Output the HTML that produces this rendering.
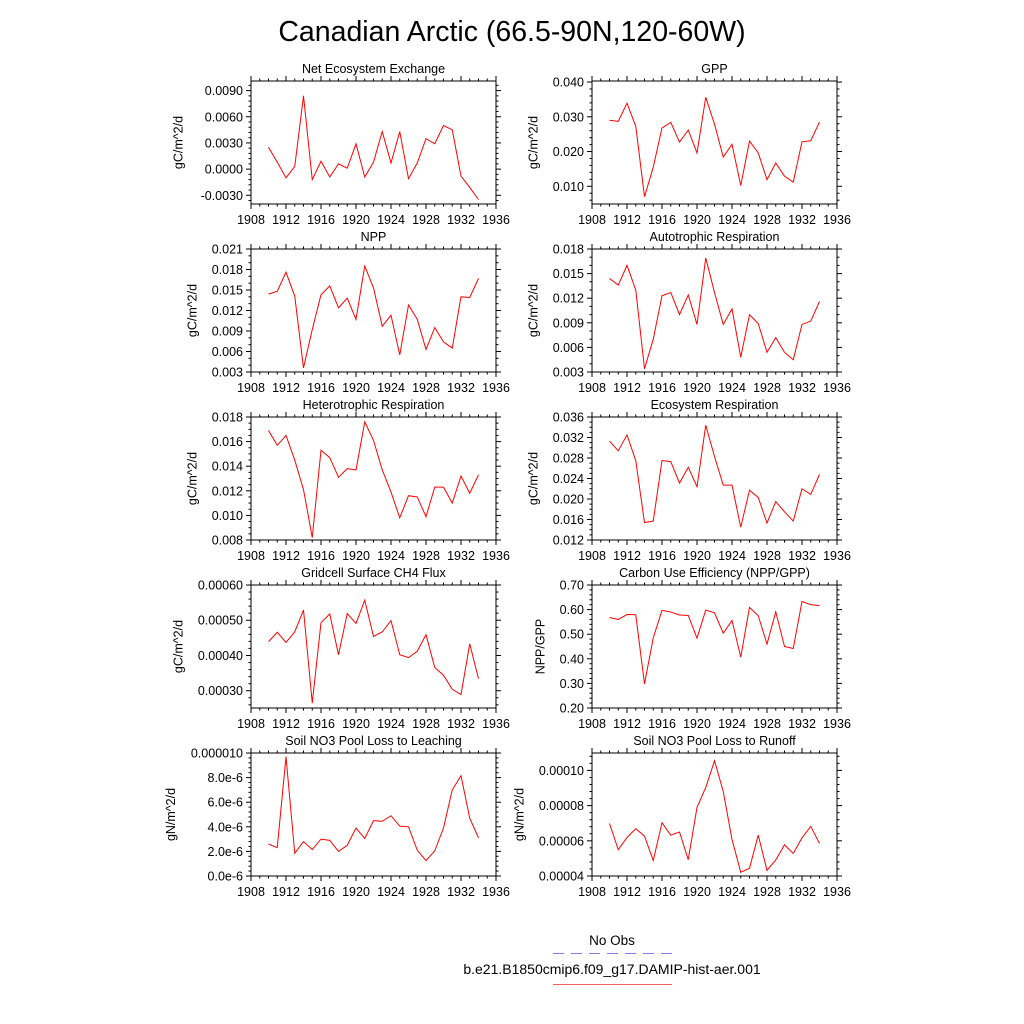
<!DOCTYPE html>
<html><head><meta charset="utf-8"><title>Canadian Arctic</title>
<style>html,body{margin:0;padding:0;background:#fff}svg{display:block;font-family:"Liberation Sans",sans-serif}</style>
</head><body>
<svg id="fig" width="1024" height="1024" viewBox="0 0 1024 1024">
<text x="512" y="41" font-size="28.5" text-anchor="middle">Canadian Arctic (66.5-90N,120-60W)</text>
<g>
<text x="612" y="945" font-size="13.5" text-anchor="middle">No Obs</text>
<line x1="553" y1="953.5" x2="672" y2="953.5" stroke="#7d7df5" stroke-width="1" stroke-dasharray="11,7"/>
<text x="612" y="974" font-size="14" text-anchor="middle">b.e21.B1850cmip6.f09_g17.DAMIP-hist-aer.001</text>
<line x1="553" y1="984.5" x2="672" y2="984.5" stroke="#f46060" stroke-width="1"/>
</g>
</svg>
<script>
const years = [1910,1911,1912,1913,1914,1915,1916,1917,1918,1919,1920,1921,1922,1923,1924,1925,1926,1927,1928,1929,1930,1931,1932,1933,1934];
const xTicks = [1908,1912,1916,1920,1924,1928,1932,1936];
const neeValues = [0.0025,0.0008,-0.0010,0.0003,0.0084,-0.0012,0.0009,-0.0009,0.0006,0.0001,0.0029,-0.0009,0.0008,0.0043,0.0007,0.0043,-0.0011,0.0007,0.0035,0.0029,0.0050,0.0045,-0.0008,-0.0021,-0.0035];
const gppValues = [0.0290,0.0287,0.0339,0.0273,0.0070,0.0155,0.0268,0.0284,0.0227,0.0262,0.0196,0.0356,0.0279,0.0184,0.0221,0.0102,0.0230,0.0196,0.0119,0.0167,0.0129,0.0112,0.0228,0.0231,0.0285];
const nppValues = [0.0144,0.0148,0.0176,0.0141,0.0036,0.0092,0.0143,0.0156,0.0124,0.0138,0.0107,0.0185,0.0153,0.0097,0.0113,0.0055,0.0128,0.0107,0.0063,0.0095,0.0074,0.0065,0.0140,0.0139,0.0167];
const arValues = [0.0144,0.0136,0.0160,0.0130,0.0034,0.0070,0.0123,0.0127,0.0100,0.0124,0.0088,0.0169,0.0127,0.0088,0.0107,0.0048,0.0100,0.0089,0.0054,0.0072,0.0054,0.0045,0.0088,0.0092,0.0116];
const hrValues = [0.0169,0.0157,0.0165,0.0145,0.0121,0.0082,0.0153,0.0147,0.0131,0.0138,0.0137,0.0176,0.0161,0.0137,0.0119,0.0098,0.0116,0.0115,0.0099,0.0123,0.0123,0.0110,0.0132,0.0118,0.0133];
const erValues = [0.0313,0.0294,0.0325,0.0275,0.0154,0.0157,0.0275,0.0273,0.0231,0.0262,0.0224,0.0344,0.0283,0.0227,0.0227,0.0145,0.0217,0.0203,0.0153,0.0195,0.0175,0.0157,0.0220,0.0209,0.0248];
const ch4Values = [0.000439,0.000466,0.000437,0.000467,0.000529,0.000265,0.000493,0.000518,0.000402,0.000519,0.000491,0.000557,0.000454,0.000467,0.000499,0.000402,0.000394,0.000412,0.000459,0.000366,0.000344,0.000304,0.000289,0.000433,0.000334];
const cueValues = [0.568,0.560,0.580,0.579,0.298,0.485,0.597,0.590,0.578,0.576,0.484,0.598,0.587,0.504,0.556,0.407,0.609,0.575,0.460,0.591,0.450,0.442,0.633,0.620,0.616];
const leachValues = [2.6e-6,2.3e-6,9.7e-6,1.85e-6,2.8e-6,2.15e-6,3.0e-6,2.9e-6,2.0e-6,2.5e-6,3.9e-6,3.05e-6,4.5e-6,4.45e-6,4.9e-6,4.05e-6,4.0e-6,2.1e-6,1.25e-6,2.05e-6,3.9e-6,7.0e-6,8.15e-6,4.7e-6,3.1e-6];
const runoffValues = [6.99e-5,5.50e-5,6.19e-5,6.69e-5,6.27e-5,4.88e-5,7.03e-5,6.32e-5,6.50e-5,4.93e-5,7.90e-5,9.03e-5,1.055e-4,8.80e-5,6.08e-5,4.21e-5,4.44e-5,6.32e-5,4.32e-5,4.91e-5,5.77e-5,5.28e-5,6.17e-5,6.82e-5,5.85e-5];
const neeTicks = ["-0.0030","0.0000","0.0030","0.0060","0.0090"];
const gppTicks = ["0.010","0.020","0.030","0.040"];
const nppTicks = ["0.003","0.006","0.009","0.012","0.015","0.018","0.021"];
const arTicks = ["0.003","0.006","0.009","0.012","0.015","0.018"];
const hrTicks = ["0.008","0.010","0.012","0.014","0.016","0.018"];
const erTicks = ["0.012","0.016","0.020","0.024","0.028","0.032","0.036"];
const ch4Ticks = ["0.00030","0.00040","0.00050","0.00060"];
const cueTicks = ["0.20","0.30","0.40","0.50","0.60","0.70"];
const leachTicks = ["0.0e-6","2.0e-6","4.0e-6","6.0e-6","8.0e-6","0.000010"];
const leachTickValues = [0,2e-6,4e-6,6e-6,8e-6,1e-5];
const runoffTicks = ["0.00004","0.00006","0.00008","0.00010"];

const NS = "http://www.w3.org/2000/svg";
const svg = document.getElementById("fig");
function mk(tag, attrs, parent){const e=document.createElementNS(NS,tag);for(const k in attrs)e.setAttribute(k,attrs[k]);parent.appendChild(e);return e;}

const panels = [
 {id:"nee",title:"Net Ecosystem Exchange",unit:"gC/m^2/d",vals:neeValues,ticks:neeTicks,ymin:-0.0040,ymax:0.0101,col:0,row:0,minor:5},
 {id:"gpp",title:"GPP",unit:"gC/m^2/d",vals:gppValues,ticks:gppTicks,ymin:0.0049,ymax:0.0403,col:1,row:0,minor:5},
 {id:"npp",title:"NPP",unit:"gC/m^2/d",vals:nppValues,ticks:nppTicks,ymin:0.003,ymax:0.021,col:0,row:1,minor:3},
 {id:"ar",title:"Autotrophic Respiration",unit:"gC/m^2/d",vals:arValues,ticks:arTicks,ymin:0.003,ymax:0.018,col:1,row:1,minor:3},
 {id:"hr",title:"Heterotrophic Respiration",unit:"gC/m^2/d",vals:hrValues,ticks:hrTicks,ymin:0.008,ymax:0.018,col:0,row:2,minor:4},
 {id:"er",title:"Ecosystem Respiration",unit:"gC/m^2/d",vals:erValues,ticks:erTicks,ymin:0.012,ymax:0.036,col:1,row:2,minor:4},
 {id:"ch4",title:"Gridcell Surface CH4 Flux",unit:"gC/m^2/d",vals:ch4Values,ticks:ch4Ticks,ymin:0.000251,ymax:0.0006,col:0,row:3,minor:5},
 {id:"cue",title:"Carbon Use Efficiency (NPP/GPP)",unit:"NPP/GPP",vals:cueValues,ticks:cueTicks,ymin:0.2,ymax:0.7,col:1,row:3,minor:5},
 {id:"leach",title:"Soil NO3 Pool Loss to Leaching",unit:"gN/m^2/d",vals:leachValues,ticks:leachTicks,tickVals:leachTickValues,ymin:0,ymax:1e-5,col:0,row:4,minor:5},
 {id:"runoff",title:"Soil NO3 Pool Loss to Runoff",unit:"gN/m^2/d",vals:runoffValues,ticks:runoffTicks,ymin:0.00004,ymax:0.0001099,col:1,row:4,minor:5}
];

panels.forEach(p=>{
  const L = p.col===0?251:592, W=245, T=81+168*p.row, H=123;
  const xs = v => L + (v-1908)/(1936-1908)*W;
  const ys = v => T + H - (v-p.ymin)/(p.ymax-p.ymin)*H;
  const g = mk("g",{},svg);
  
  
  const tt = mk("text",{x:L+W/2,y:T-8,"font-size":12.5,"text-anchor":"middle"},g);
  tt.textContent=p.title;
  
  
  for(let yv=1908; yv<=1936; yv++){
    const x=xs(yv), major=(yv-1908)%4===0, len=major?5:2.5;
    const t1=mk("line",{x1:x,y1:T+H,x2:x,y2:T+H+len,stroke:"#000","stroke-width":1},g);
    
    
    const t2=mk("line",{x1:x,y1:T,x2:x,y2:T-len,stroke:"#000","stroke-width":1},g);
    
    
  }
  xTicks.forEach(yv=>{
    const tl=mk("text",{x:xs(yv),y:T+H+20,"font-size":12.5,"text-anchor":"middle"},g);
    tl.textContent=yv;
    
    
  });
  const tv = p.tickVals || p.ticks.map(Number);
  const step = tv[1]-tv[0];
  const ms = step/p.minor;
  let maxc=0;
  for(let v=tv[0]-Math.floor((tv[0]-p.ymin)/ms)*ms; v<=p.ymax+ms*1e-6; v+=ms){
    const y=ys(v);
    const k=Math.round((v-tv[0])/ms);
    const major=k%p.minor===0; const len=major?5:2.5;
    const a=mk("line",{x1:L,y1:y,x2:L-len,y2:y,stroke:"#000","stroke-width":1},g);
    
    
    const b=mk("line",{x1:L+W,y1:y,x2:L+W+len,y2:y,stroke:"#000","stroke-width":1},g);
    
    
  }
  p.ticks.forEach((lab,i)=>{
    const tl=mk("text",{x:L-8,y:ys(tv[i])+4.5,"font-size":12.5,"text-anchor":"end"},g);
    tl.textContent=lab;
    
    
    maxc=Math.max(maxc,lab.length);
  });
  const tx = L-8-maxc*7.1-11;
  const yt=mk("text",{x:tx,y:T+H/2,"font-size":12.5,"text-anchor":"middle",transform:`rotate(-90 ${tx} ${T+H/2})`},g);
  yt.textContent=p.unit;
  
  
  const r=mk("rect",{x:L,y:T,width:W,height:H,fill:"none",stroke:"#000","stroke-width":1},g);
  
  
  const pts = p.vals.map((v,i)=>xs(years[i]).toFixed(2)+","+ys(v).toFixed(2)).join(" ");
  const pl=mk("polyline",{points:pts,fill:"none",stroke:"#ff0000","stroke-width":1},g);
  
  
});
</script>
</body></html>
